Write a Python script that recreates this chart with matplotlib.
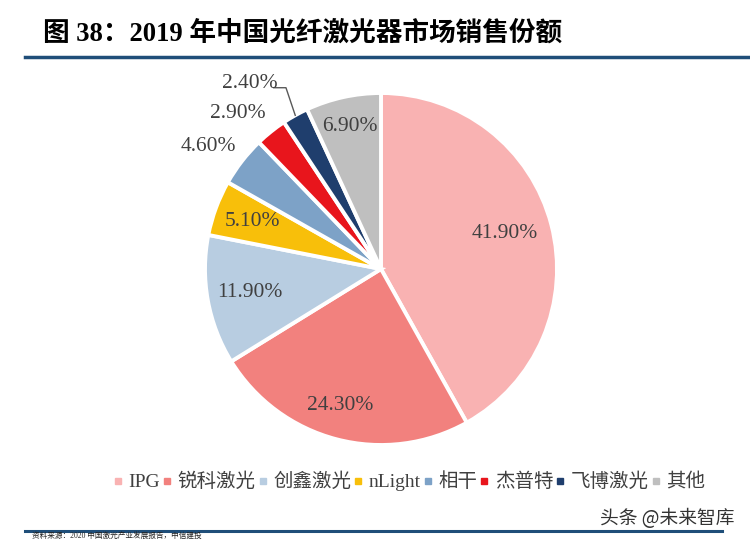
import numpy as np
import matplotlib.pyplot as plt

plt.rcParams['font.family'] = ['Liberation Serif', 'Noto Sans CJK SC', 'DejaVu Sans']

companies = ['IPG', '锐科激光', '创鑫激光', 'nLight', '相干', '杰普特', '飞博激光', '其他']
shares = [41.9, 24.3, 11.9, 5.1, 4.6, 2.9, 2.4, 6.9]
colors = ['#F9B2B2', '#F2817E', '#B8CDE1', '#F8BF0A', '#7DA2C7', '#E8151C', '#1F3E6D', '#BFBFBF']

# label placement: radius factor and angle shift (deg) per slice
label_r = [0.73, 0.81, 0.76, 0.78, 1.20, 1.20, 1.29, 0.83]
label_shift = [1.5, -2.0, 0.0, 0.0, 2.5, 4.0, 6.0, 0.0]

fig = plt.figure(figsize=(7.5, 5.4), dpi=100)
fig.patch.set_facecolor('white')

# pie centred at (381, 269) px with radius 176 px
R = 176
half = 200
ax = fig.add_axes([(381 - half) / 750, (540 - 269 - half) / 540, 2 * half / 750, 2 * half / 540])
lim = half / R
wedges, _ = ax.pie(shares, colors=colors, startangle=90, counterclock=False, radius=1,
                   wedgeprops=dict(edgecolor='white', linewidth=2.8))
ax.set_xlim(-lim, lim)
ax.set_ylim(-lim, lim)
ax.set_aspect('equal')
ax.axis('off')

total = sum(shares)
cum = 0
for i, v in enumerate(shares):
    mid = 90 - (cum + v / 2) / total * 360
    cum += v
    ang = np.radians(mid + label_shift[i])
    x, y = label_r[i] * np.cos(ang), label_r[i] * np.sin(ang)
    ax.text(x, y, f'{v:.2f}%', ha='center', va='center', fontsize=15.5,
            color='#404040', clip_on=False)
    if companies[i] == '飞博激光':
        a = np.radians(mid)
        px, py = np.cos(a) * 1.0, np.sin(a) * 1.0
        ax.plot([px, -0.54, -0.61], [py, 1.03, 1.03], color='#595959', lw=1.0, clip_on=False)

# title
fig.text(43 / 750, 1 - 34 / 540, '图 38：2019 年中国光纤激光器市场销售份额', fontsize=19.2,
         fontweight='bold', ha='left', va='center', color='black')
fig.add_artist(plt.Line2D([25 / 750, 1.0], [1 - 57 / 540, 1 - 57 / 540], color='#1F4E79', lw=2.5))

# legend
handles = [plt.Line2D([], [], marker='s', ls='', color=c, markersize=4.5) for c in colors]
fig.legend(handles, companies, loc='center', bbox_to_anchor=(410 / 750, 1 - 482 / 540),
           ncol=8, frameon=False, fontsize=14, handlelength=0.35, handletextpad=0.35,
           columnspacing=0.2, labelcolor='#404040')

# watermark and footer
fig.text(735 / 750, 1 - 518 / 540, '头条 @未来智库', fontsize=13.5, ha='right', va='center',
         color='#333333', family=['Noto Sans CJK SC', 'DejaVu Sans'])
fig.add_artist(plt.Line2D([25 / 750, 722 / 750], [1 - 531 / 540, 1 - 531 / 540], color='#1F4E79', lw=2.2))
fig.text(32 / 750, 1 - 533 / 540, '资料来源：2020 中国激光产业发展报告，中信建投', fontsize=5.5,
         ha='left', va='top', color='#222222')

fig.savefig('out.png', dpi=100)
